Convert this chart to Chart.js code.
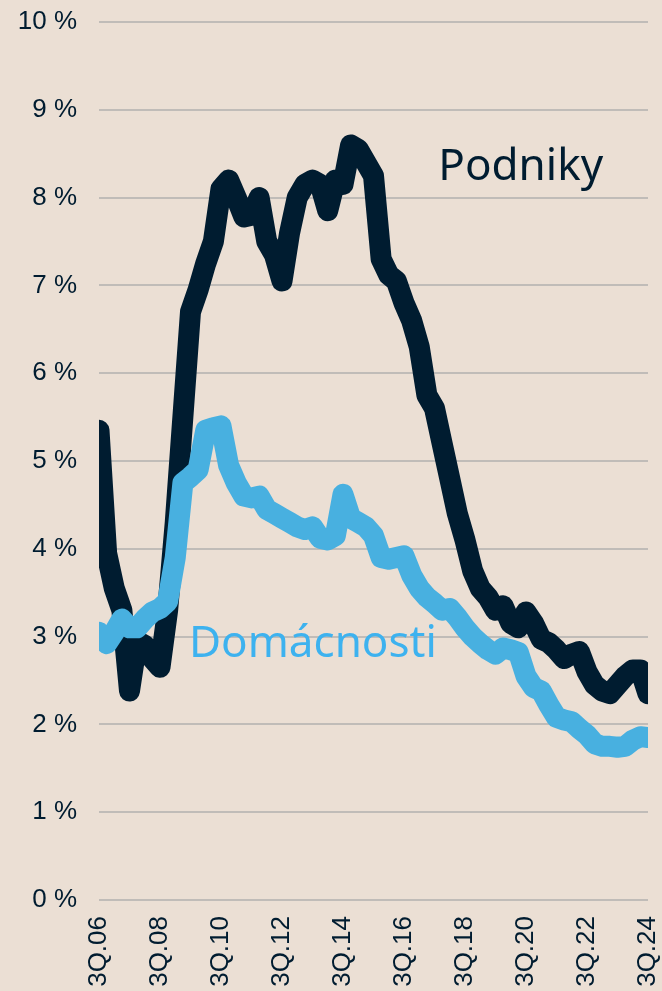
<!DOCTYPE html>
<html>
<head>
<meta charset="utf-8">
<script src="https://cdn.jsdelivr.net/npm/chart.js@4.4.0/dist/chart.umd.min.js"></script>
<style>
  html, body { margin: 0; padding: 0; background: #ebdfd4; }
  #wrap { width: 662px; height: 991px; position: relative; }
</style>
</head>
<body>
<div id="wrap"><canvas id="npl"></canvas></div>
<script>
// quarterly, 3Q.06 .. 3Q.24
const quarters = [
  '3Q.06','4Q.06',
  '1Q.07','2Q.07','3Q.07','4Q.07',
  '1Q.08','2Q.08','3Q.08','4Q.08',
  '1Q.09','2Q.09','3Q.09','4Q.09',
  '1Q.10','2Q.10','3Q.10','4Q.10',
  '1Q.11','2Q.11','3Q.11','4Q.11',
  '1Q.12','2Q.12','3Q.12','4Q.12',
  '1Q.13','2Q.13','3Q.13','4Q.13',
  '1Q.14','2Q.14','3Q.14','4Q.14',
  '1Q.15','2Q.15','3Q.15','4Q.15',
  '1Q.16','2Q.16','3Q.16','4Q.16',
  '1Q.17','2Q.17','3Q.17','4Q.17',
  '1Q.18','2Q.18','3Q.18','4Q.18',
  '1Q.19','2Q.19','3Q.19','4Q.19',
  '1Q.20','2Q.20','3Q.20','4Q.20',
  '1Q.21','2Q.21','3Q.21','4Q.21',
  '1Q.22','2Q.22','3Q.22','4Q.22',
  '1Q.23','2Q.23','3Q.23','4Q.23',
  '1Q.24','2Q.24','3Q.24'
];

const shownTicks = ['3Q.06','3Q.08','3Q.10','3Q.12','3Q.14','3Q.16','3Q.18','3Q.20','3Q.22','3Q.24'];

const podniky = [
  5.35, 3.95, 3.55, 3.30, 2.38, 2.95, 2.90, 2.75, 2.65, 3.30,
  4.30, 5.50, 6.70, 6.95, 7.25, 7.50, 8.10, 8.20, 8.00, 7.78,
  7.80, 8.00, 7.50, 7.35, 7.05, 7.60, 8.00, 8.15, 8.20, 8.15,
  7.85, 8.20, 8.15, 8.60, 8.55, 8.40, 8.25, 7.30, 7.12, 7.05,
  6.80, 6.60, 6.30, 5.75, 5.60, 5.20, 4.80, 4.40, 4.10, 3.75,
  3.55, 3.45, 3.30, 3.35, 3.15, 3.10, 3.28, 3.15, 2.97, 2.93,
  2.85, 2.75, 2.80, 2.83, 2.60, 2.45, 2.38, 2.35, 2.45, 2.55,
  2.62, 2.62, 2.35
];

const domacnosti = [
  3.05, 2.92, 3.05, 3.20, 3.10, 3.10, 3.20, 3.28, 3.32, 3.40,
  3.90, 4.75, 4.82, 4.90, 5.35, 5.38, 5.40, 4.95, 4.75, 4.60,
  4.58, 4.60, 4.45, 4.40, 4.35, 4.30, 4.25, 4.22, 4.25, 4.12,
  4.10, 4.15, 4.62, 4.35, 4.30, 4.25, 4.15, 3.90, 3.88, 3.90,
  3.92, 3.70, 3.55, 3.45, 3.38, 3.30, 3.32, 3.22, 3.10, 3.00,
  2.92, 2.85, 2.80, 2.87, 2.85, 2.82, 2.55, 2.42, 2.38, 2.22,
  2.08, 2.05, 2.03, 1.95, 1.88, 1.78, 1.75, 1.75, 1.74, 1.75,
  1.82, 1.86, 1.85
];

const dark = '#001c30';
const blue = '#48b0e0';
const textBlue = '#3db2ef';

// series names drawn inside the plot, anchored in data units
const seriesLabels = {
  id: 'seriesLabels',
  afterDatasetsDraw(chart) {
    const ctx = chart.ctx;
    const x = chart.scales.x;
    const y = chart.scales.y;
    ctx.save();
    ctx.font = '44px "Noto Sans", sans-serif';
    ctx.textAlign = 'left';
    ctx.textBaseline = 'alphabetic';
    ctx.fillStyle = dark;
    ctx.fillText('Podniky', x.getPixelForValue(44.5), y.getPixelForValue(8.2));
    ctx.fillStyle = textBlue;
    ctx.fillText('Domácnosti', x.getPixelForValue(11.8), y.getPixelForValue(2.77));
    ctx.restore();
  }
};

const ctx = document.getElementById('npl');

const chart = new Chart(ctx, {
  type: 'line',
  data: {
    labels: quarters,
    datasets: [
      {
        label: 'Domácnosti',
        data: domacnosti,
        borderColor: blue,
        backgroundColor: blue,
        borderWidth: 21,
        order: 0
      },
      {
        label: 'Podniky',
        data: podniky,
        borderColor: dark,
        backgroundColor: dark,
        borderWidth: 21,
        order: 1
      }
    ]
  },
  options: {
    responsive: true,
    maintainAspectRatio: false,
    animation: false,
    layout: { padding: { top: 22, right: 14, left: 0, bottom: 0 } },
    elements: {
      point: { radius: 0, hoverRadius: 0 },
      line: { tension: 0, fill: false, borderJoinStyle: 'round', borderCapStyle: 'round' }
    },
    datasets: { line: { clip: 0 } },
    plugins: {
      legend: { display: false },
      tooltip: { enabled: false }
    },
    scales: {
      x: {
        grid: { display: false, drawTicks: false },
        border: { display: false },
        afterFit: function(scale) {
          scale.height = 91;
          scale.paddingLeft = 0;
          scale.paddingRight = 0;
        },
        ticks: {
          autoSkip: false,
          maxRotation: 90,
          minRotation: 90,
          padding: 16,
          color: dark,
          font: { family: '"Liberation Sans", Arial, sans-serif', size: 26 },
          callback: function(val, idx) {
            const q = quarters[idx];
            return shownTicks.includes(q) ? q : '';
          }
        }
      },
      y: {
        min: 0,
        max: 10,
        afterFit: function(scale) {
          scale.width = 99;
          scale.paddingTop = 0;
          scale.paddingBottom = 0;
        },
        grid: { color: '#c0bcb8', lineWidth: 2, drawTicks: false },
        border: { display: false },
        ticks: {
          stepSize: 1,
          padding: 22,
          color: dark,
          font: { family: '"Liberation Sans", Arial, sans-serif', size: 26 },
          callback: function(v) { return v + ' %'; }
        }
      }
    }
  },
  plugins: [seriesLabels]
});
</script>
</body>
</html>
